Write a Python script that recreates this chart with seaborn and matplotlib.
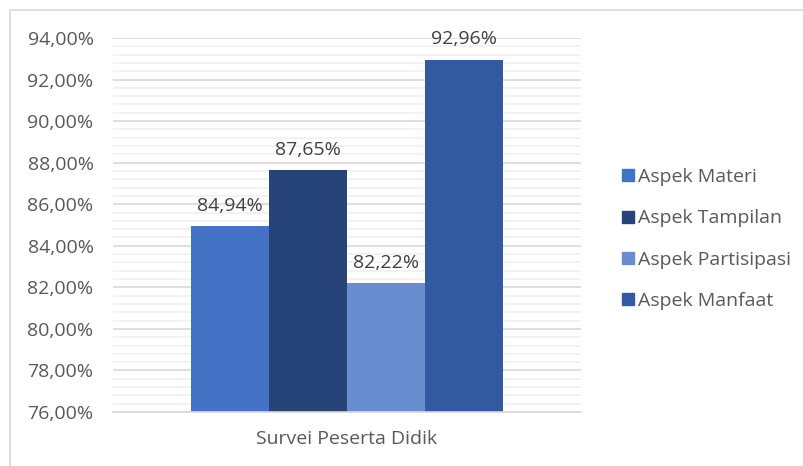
import matplotlib
matplotlib.use("Agg")
import matplotlib.pyplot as plt
import seaborn as sns
import pandas as pd
from matplotlib.ticker import FuncFormatter, MultipleLocator
from matplotlib.lines import Line2D

category = ["Survei Peserta Didik"]
series = ["Aspek Materi", "Aspek Tampilan", "Aspek Partisipasi", "Aspek Manfaat"]
values = [84.94, 87.65, 82.22, 92.96]
colors = ["#4472C4", "#264478", "#698ED0", "#335AA1"]

df = pd.DataFrame({"cat": category * len(series), "series": series, "value": values})

sns.set_theme(style="white")
plt.rcParams["font.family"] = ["Open Sans", "DejaVu Sans"]

fig = plt.figure(figsize=(8.04, 4.66), dpi=100)
ax = fig.add_axes([113 / 804, 1 - 412 / 466, (581 - 113) / 804, (412 - 38) / 466])

sns.barplot(data=df, x="cat", y="value", hue="series", palette=colors,
            width=0.667, gap=0, ax=ax, saturation=1, legend=True, errorbar=None,
            linewidth=0, edgecolor="none")

ax.set_ylim(76, 94)
ax.set_xlim(-0.5, 0.5)
ax.yaxis.set_major_locator(MultipleLocator(2))
ax.yaxis.set_minor_locator(MultipleLocator(0.4))
ax.yaxis.set_major_formatter(FuncFormatter(lambda v, p: f"{v:.2f}".replace(".", ",") + "%"))
ax.grid(which="major", axis="y", color="#D9D9D9", linewidth=1.2, zorder=0)
ax.grid(which="minor", axis="y", color="#F0F0F0", linewidth=1.2, zorder=0)
ax.set_axisbelow(True)
for s in ["left", "right", "top"]:
    ax.spines[s].set_visible(False)
ax.spines["bottom"].set_color("#D9D9D9")
ax.spines["bottom"].set_linewidth(1.2)
ax.tick_params(axis="y", which="both", length=0, labelsize=14, labelcolor="#595959", pad=14)
ax.tick_params(axis="x", length=0, labelsize=14, labelcolor="#595959", pad=13)
ax.set_xlabel("")
ax.set_ylabel("")

for cont in ax.containers:
    ax.bar_label(cont, labels=[f"{v:.2f}".replace(".", ",") + "%" for v in cont.datavalues],
                 padding=8, fontsize=14, color="#404040")

leg = ax.get_legend()
handles = [Line2D([0], [0], marker="s", linestyle="", markersize=9,
                  markerfacecolor=c, markeredgecolor=c) for c in colors]
leg.remove()
fig.legend(handles, series, loc="center left", bbox_to_anchor=(612 / 804, 1 - 239 / 466),
           frameon=False, fontsize=14, labelcolor="#595959", handlelength=0.8,
           handletextpad=0.15, labelspacing=1.2, borderaxespad=0)

# chart area border (left and top visible)
fig.add_artist(Line2D([10 / 804, 10 / 804], [0, 1 - 10 / 466], transform=fig.transFigure,
                      color="#D9D9D9", linewidth=1.2))
fig.add_artist(Line2D([10 / 804, 1], [1 - 10 / 466, 1 - 10 / 466], transform=fig.transFigure,
                      color="#D9D9D9", linewidth=1.2))

fig.savefig("out.png", dpi=100, facecolor="white")
